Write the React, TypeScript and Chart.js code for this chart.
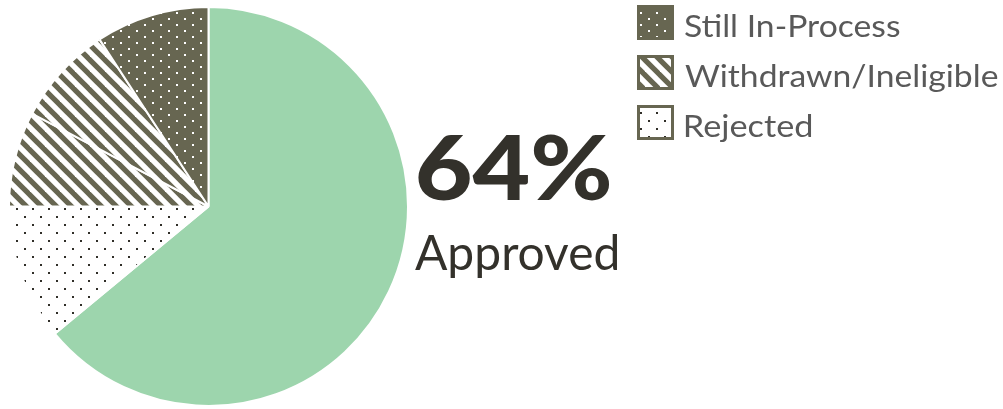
import React, { useEffect, useRef } from 'react';
import { Chart, registerables } from 'chart.js';

Chart.register(...registerables);

// ---- data ----
const categories = ['Approved', 'Rejected', 'Withdrawn', 'Ineligible', 'Still In-Process'];
const values = [64, 11, 7.7, 8.1, 9.2];
const legendLabels = ['Still In-Process', 'Withdrawn/Ineligible', 'Rejected'];
const headlineValue = '64%';
const headlineLabel = 'Approved';

const W = 1003;
const H = 409;
const OLIVE = '#676651';
const GREEN = '#9dd5ad';
const DOT_DARK = '#302e28';

function makeTile(w: number, h: number, draw: (c: CanvasRenderingContext2D) => void) {
  const cv = document.createElement('canvas');
  cv.width = w;
  cv.height = h;
  const c = cv.getContext('2d')!;
  draw(c);
  return cv;
}

function makePatterns(ctx: CanvasRenderingContext2D) {
  const darkDots = makeTile(16, 12, (c) => {
    c.fillStyle = OLIVE;
    c.fillRect(0, 0, 16, 12);
    c.fillStyle = '#ffffff';
    c.fillRect(0, 0, 2, 2);
    c.fillRect(8, 6, 2, 2);
  });
  const lightDots = makeTile(16, 16, (c) => {
    c.fillStyle = '#ffffff';
    c.fillRect(0, 0, 16, 16);
    c.fillStyle = DOT_DARK;
    c.fillRect(0, 0, 2, 2);
    c.fillRect(8, 8, 2, 2);
  });
  const stripes = makeTile(15, 15, (c) => {
    c.fillStyle = '#ffffff';
    c.fillRect(0, 0, 15, 15);
    c.strokeStyle = OLIVE;
    c.lineWidth = 5.2;
    for (const off of [-15, 0, 15]) {
      c.beginPath();
      c.moveTo(off - 2, -2);
      c.lineTo(off + 17, 17);
      c.stroke();
    }
  });
  return {
    darkDots: ctx.createPattern(darkDots, 'repeat')!,
    lightDots: ctx.createPattern(lightDots, 'repeat')!,
    stripes: ctx.createPattern(stripes, 'repeat')!,
  };
}

function drawFitText(
  ctx: CanvasRenderingContext2D,
  text: string,
  x: number,
  baseline: number,
  font: string,
  targetWidth: number,
  color: string
) {
  ctx.save();
  ctx.font = font;
  ctx.fillStyle = color;
  ctx.textBaseline = 'alphabetic';
  ctx.textAlign = 'left';
  const m = ctx.measureText(text);
  const natural = m.actualBoundingBoxRight + m.actualBoundingBoxLeft || m.width;
  const sx = targetWidth / natural;
  ctx.translate(x, baseline);
  ctx.scale(sx, 1);
  ctx.fillText(text, m.actualBoundingBoxLeft, 0);
  ctx.restore();
}

export default function App() {
  const ref = useRef<HTMLCanvasElement | null>(null);

  useEffect(() => {
    const canvas = ref.current!;
    const ctx = canvas.getContext('2d')!;
    const pats = makePatterns(ctx);
    const fills = [GREEN, pats.lightDots, pats.stripes, pats.stripes, pats.darkDots];
    const legendFills = [pats.darkDots, pats.stripes, pats.lightDots];

    const overlay = {
      id: 'overlay',
      afterDraw(chart: Chart) {
        const c = chart.ctx;
        // headline
        drawFitText(c, headlineValue, 418, 200, '900 90px Lato', 192, '#33312b');
        drawFitText(c, headlineLabel, 415, 270, '49px Lato', 202, '#33312b');
        // legend
        const widths = [215, 313, 127];
        legendLabels.forEach((lab, i) => {
          const top = 6 + i * 50;
          c.save();
          c.fillStyle = legendFills[i];
          c.fillRect(638, top, 35, 33);
          c.strokeStyle = OLIVE;
          c.lineWidth = 3;
          c.strokeRect(638.5, top + 0.5, 34, 32);
          c.restore();
          drawFitText(c, lab, 685, top + 31, '31px Lato', widths[i], '#595959');
        });
      },
    };

    const chart = new Chart(canvas, {
      type: 'pie',
      data: {
        labels: categories,
        datasets: [
          {
            data: values,
            backgroundColor: fills as any,
            borderColor: '#ffffff',
            borderWidth: 2,
          },
        ],
      },
      options: {
        animation: false,
        responsive: false,
        devicePixelRatio: 1,
        layout: { padding: { left: 8, top: 6, right: W - 409, bottom: 2 } },
        plugins: {
          legend: { display: false },
          tooltip: { enabled: false },
        },
      },
      plugins: [overlay],
    });
    return () => chart.destroy();
  }, []);

  return (
    <div style={{ position: 'fixed', left: 0, top: 0, width: W, height: H, background: '#fff' }}>
      <canvas ref={ref} width={W} height={H} style={{ display: 'block', width: W, height: H }} />
    </div>
  );
}
